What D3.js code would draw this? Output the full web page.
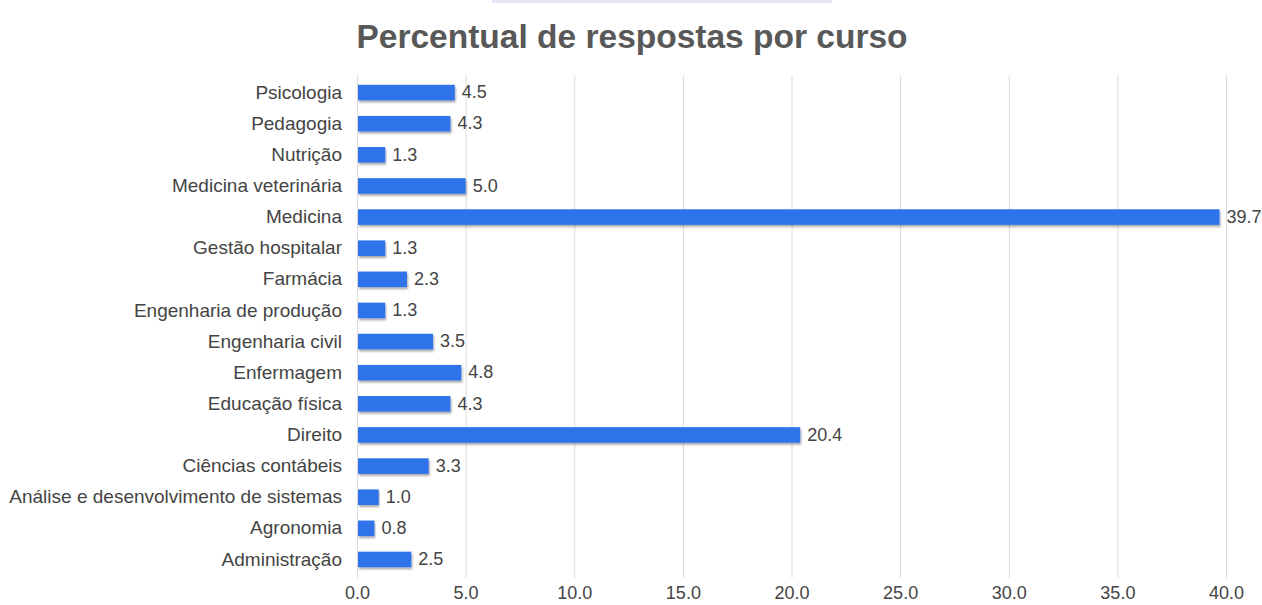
<!DOCTYPE html>
<html>
<head>
<meta charset="utf-8">
<script src="https://cdn.jsdelivr.net/npm/d3@7"></script>
<style>
  html, body { margin: 0; padding: 0; background: #fff; }
  svg { display: block; }
  text { font-family: "Liberation Sans", Arial, sans-serif; }
</style>
</head>
<body>
<svg id="chart" width="1262" height="605"></svg>
<script>
const title = "Percentual de respostas por curso";
const categories = [
  "Psicologia", "Pedagogia", "Nutrição", "Medicina veterinária", "Medicina",
  "Gestão hospitalar", "Farmácia", "Engenharia de produção", "Engenharia civil",
  "Enfermagem", "Educação física", "Direito", "Ciências contábeis",
  "Análise e desenvolvimento de sistemas", "Agronomia", "Administração"
];
const values = [4.5, 4.3, 1.3, 5.0, 39.7, 1.3, 2.3, 1.3, 3.5, 4.8, 4.3, 20.4, 3.3, 1.0, 0.8, 2.5];
const xTicks = [0, 5, 10, 15, 20, 25, 30, 35, 40];

const svg = d3.select("#chart");
const data = categories.map((c, i) => ({ cat: c, val: values[i] }));

const x = d3.scaleLinear().domain([0, 40]).range([357, 1226]);
const y = d3.scaleBand().domain(categories).range([77, 575]).paddingInner(0.5).paddingOuter(0.25);

// top decorative strip
svg.append("rect").attr("x", 492).attr("y", 0).attr("width", 340).attr("height", 3).attr("fill", "#e4e7f6");

const defs = svg.append("defs");
const f = defs.append("filter").attr("id", "shadow").attr("x", "-5%").attr("y", "-40%").attr("width", "110%").attr("height", "200%");
f.append("feDropShadow").attr("dx", 1).attr("dy", 2).attr("stdDeviation", 1.3).attr("flood-color", "#000").attr("flood-opacity", 0.35);

// title
svg.append("text")
  .attr("x", 632).attr("y", 48)
  .attr("text-anchor", "middle")
  .attr("font-size", 33.5).attr("font-weight", "bold")
  .attr("fill", "#585858")
  .text(title);

// gridlines
svg.append("g").selectAll("line").data(xTicks).join("line")
  .attr("x1", d => x(d) + 0.5).attr("x2", d => x(d) + 0.5)
  .attr("y1", 75).attr("y2", 578)
  .attr("stroke", "#dcdcdc").attr("stroke-width", 1);

// x axis labels
const xAxis = d3.axisBottom(x).tickValues(xTicks).tickFormat(d3.format(".1f")).tickSize(0).tickPadding(0);
const gx = svg.append("g").call(xAxis);
gx.select(".domain").remove();
gx.selectAll("text").attr("y", 599).attr("dy", null)
  .attr("font-size", 18).attr("fill", "#444").attr("font-family", "Liberation Sans, Arial, sans-serif");

// y axis labels
const yAxis = d3.axisLeft(y).tickSize(0).tickPadding(0);
const gy = svg.append("g").attr("transform", "translate(342,0)").call(yAxis);
gy.select(".domain").remove();
gy.selectAll("text").attr("dy", "0.32em")
  .attr("font-size", 19).attr("fill", "#444").attr("font-family", "Liberation Sans, Arial, sans-serif");

// bars
svg.append("g").selectAll("rect").data(data).join("rect")
  .attr("x", x(0) + 1)
  .attr("y", d => y(d.cat))
  .attr("width", d => x(d.val) - x(0) - 1)
  .attr("height", y.bandwidth())
  .attr("fill", "#2f73ea")
  .attr("filter", "url(#shadow)");

// value labels
svg.append("g").selectAll("text").data(data).join("text")
  .attr("x", d => x(d.val) + 7)
  .attr("y", d => y(d.cat) + y.bandwidth() / 2)
  .attr("dy", "0.32em")
  .attr("font-size", 18).attr("fill", "#444")
  .text(d => d3.format(".1f")(d.val));
</script>
</body>
</html>
